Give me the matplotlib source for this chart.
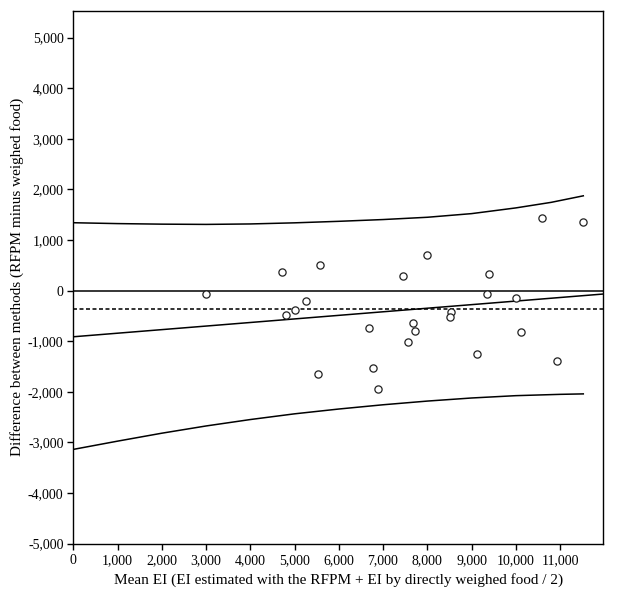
#!/usr/bin/env python3
"""
Bland-Altman style plot: RFPM vs directly weighed food energy intake.
"""

import matplotlib
matplotlib.use('Agg')
import matplotlib.pyplot as plt
from matplotlib.ticker import FuncFormatter

# Data
mean_ei = [3006, 4710, 5568, 5266, 5003, 4800, 6676, 7684, 7722, 7553,
           6780, 5537, 6893, 7989, 7440, 10585, 11512, 9394, 9349, 10011,
           8529, 8506, 10124, 9123, 10931]
diff_ei = [-67, 375, 499, -211, -375, -482, -744, -639, -797, -1010,
           -1528, -1646, -1948, 710, 298, 1433, 1354, 335, -73, -152,
           -422, -527, -817, -1243, -1389]

mean_diff = -369

# regression of difference on mean (end points)
reg_x = [0, 11977]
reg_y = [-912, -67]

# regression-based limits of agreement
upper_x = [0, 1000, 2000, 3000, 4000, 5000, 6000, 7000, 8000, 9000,
           10000, 10800, 11525]
upper_y = [1342, 1325, 1314, 1309, 1318, 1340, 1370, 1405, 1450, 1522,
           1635, 1745, 1874]
lower_x = [0, 1000, 2000, 3000, 4000, 5000, 6000, 7000, 8000, 9000,
           10000, 11000, 11525]
lower_y = [-3138, -2975, -2818, -2675, -2548, -2435, -2340, -2256, -2183,
           -2122, -2076, -2050, -2041]

x_ticks = list(range(0, 12000, 1000))
y_ticks = list(range(-5000, 6000, 1000))

plt.rcParams['font.family'] = ['Liberation Serif', 'DejaVu Serif']
FS = 10

fig = plt.figure(figsize=(6.23, 5.98), dpi=100)
ax = fig.add_axes([73.3 / 623, 54.4 / 598, 530 / 623, 532.6 / 598])

ax.axhline(0, color='black', lw=1.1)
ax.axhline(mean_diff, color='#222222', lw=1.3, dashes=(2.2, 1.4))
ax.plot(reg_x, reg_y, color='black', lw=1.1)
ax.plot(upper_x, upper_y, color='black', lw=1.1)
ax.plot(lower_x, lower_y, color='black', lw=1.1)

ax.plot(mean_ei, diff_ei, linestyle='none', marker='o', markersize=5.2,
        markerfacecolor='white', markeredgecolor='#222222',
        markeredgewidth=0.9, zorder=5)

ax.set_xlim(0, 11977)
ax.set_ylim(-5000, 5527)
ax.set_xticks(x_ticks)
ax.set_yticks(y_ticks)
fmt = FuncFormatter(lambda v, p: f'{int(v):,}')
ax.xaxis.set_major_formatter(fmt)
ax.yaxis.set_major_formatter(fmt)
ax.tick_params(direction='out', length=4.5, width=1.0, labelsize=FS,
               colors='black')
ax.tick_params(axis='x', pad=3)
ax.tick_params(axis='y', pad=2.5)

for s in ax.spines.values():
    s.set_linewidth(1.0)
    s.set_color('black')

ax.set_xlabel('Mean EI (EI estimated with the RFPM + EI by directly weighed food / 2)',
              fontsize=11, labelpad=4)
ax.set_ylabel('Difference between methods (RFPM minus weighed food)',
              fontsize=11, labelpad=3)

fig.savefig('out.png', dpi=100, facecolor='white')
